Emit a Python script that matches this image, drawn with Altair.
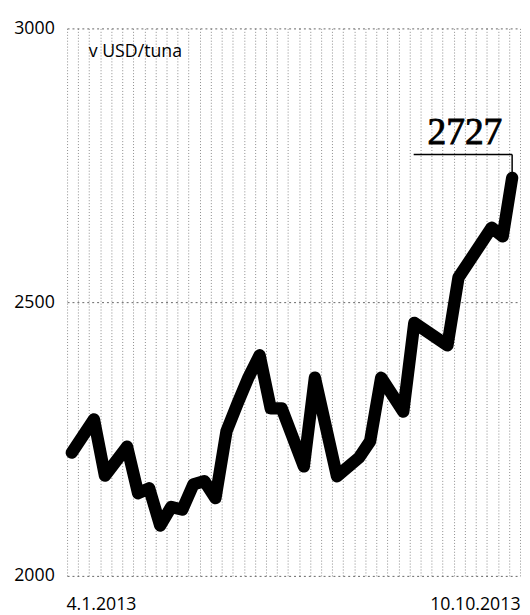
import altair as alt
import pandas as pd

# Weekly cocoa price (USD per tonne), vertices of the line
dates = [
    "2013/01/04", "2013/01/18", "2013/01/25", "2013/02/08", "2013/02/15",
    "2013/02/22", "2013/03/01", "2013/03/08", "2013/03/15", "2013/03/22",
    "2013/03/29", "2013/04/05", "2013/04/12", "2013/04/19", "2013/04/26",
    "2013/05/03", "2013/05/10", "2013/05/17", "2013/05/31", "2013/06/07",
    "2013/06/21", "2013/07/05", "2013/07/12", "2013/07/19", "2013/08/02",
    "2013/08/09", "2013/08/30", "2013/09/06", "2013/09/27", "2013/10/04",
    "2013/10/10",
]
prices = [
    2225, 2286, 2183, 2236, 2151,
    2160, 2092, 2126, 2121, 2167,
    2173, 2142, 2264, 2315, 2363,
    2403, 2306, 2306, 2200, 2362,
    2182, 2216, 2246, 2362, 2300,
    2462, 2421, 2545, 2636, 2620,
    2727,
]
y_ticks = [2000, 2500, 3000]
x_domain = ["2013/01/01", "2013/10/15"]
unit_label = "v USD/tuna"
date_format = "%-d.%-m.%Y"

df = pd.DataFrame({"date": dates, "price": prices})
last = df.iloc[[-1]].reset_index(drop=True)


def dt(s):
    y, m, d = (int(p) for p in s.split("/"))
    return alt.DateTime(year=y, month=m, date=d)


grid_weeks = [dt(d.strftime("%Y/%m/%d")) for d in pd.date_range("2013-01-01", "2013-10-15", freq="7D")]

xscale = alt.Scale(domain=[dt(x_domain[0]), dt(x_domain[1])], nice=False)
yscale = alt.Scale(domain=[y_ticks[0], y_ticks[-1]], nice=False)

FONT = "Open Sans"
first_test = "month(datum.value) == 0"

y_axis = alt.Axis(
    values=y_ticks, format="d", grid=True, gridDash=[2, 3],
    gridColor="#666666", gridWidth=1, ticks=False, domain=False,
    title=None, orient="left", labelPadding=13, labelFlush=False,
    labelBaseline="middle",
)

line = alt.Chart(df).mark_line(
    color="black", strokeWidth=12.5, strokeJoin="round", strokeCap="round"
).encode(
    x=alt.X(
        "date:T", scale=xscale,
        axis=alt.Axis(
            values=[dt(dates[0]), dt(dates[-1])], format=date_format,
            orient="bottom", labelFlush=False, labelOverlap=False,
            labelAlign={"condition": {"test": first_test, "value": "left"}, "value": "right"},
            labelOffset={"condition": {"test": first_test, "value": -6}, "value": 8},
            grid=False, ticks=False, domain=False, title=None,
            labelPadding=20, labelBaseline="top",
        ),
    ),
    y=alt.Y("price:Q", scale=yscale, axis=y_axis),
)

callout_h = alt.Chart(last).mark_rule(color="black", strokeWidth=1.5).encode(
    x=alt.X(
        "date:T", scale=xscale,
        axis=alt.Axis(
            values=grid_weeks, labels=False, ticks=False, domain=False,
            grid=True, gridDash=[1, 2], gridColor="#8a8a8a", gridWidth=1,
            title=None, orient="bottom",
        ),
    ),
    x2=alt.value(352),
    y=alt.value(128),
)

callout_v = alt.Chart(last).mark_rule(color="black", strokeWidth=1.5).encode(
    x=alt.X("date:T", scale=xscale, axis=None),
    y=alt.Y("price:Q", scale=yscale, axis=y_axis),
    y2=alt.value(128),
)

value_text = alt.Chart(last).mark_text(
    font="Liberation Serif", fontSize=38, color="black",
    stroke="black", strokeWidth=0.9,
    align="center", baseline="alphabetic", dx=-48, dy=-34,
).encode(
    x=alt.X("date:T", scale=xscale, axis=None),
    y=alt.Y("price:Q", scale=yscale, axis=y_axis),
    text=alt.Text("price:Q", format="d"),
)

unit_text = alt.Chart(pd.DataFrame({"t": [unit_label]})).mark_text(
    font=FONT, fontSize=18, color="black", align="left", baseline="alphabetic"
).encode(
    x=alt.value(22), y=alt.value(29), text="t:N"
)

chart = alt.layer(
    line, callout_h, callout_v, value_text, unit_text
).resolve_axis(x="independent").properties(
    width=460, height=556,
    autosize=alt.AutoSizeParams(type="none"),
    padding={"left": 60, "top": 16, "right": 2, "bottom": 35},
    background="white",
).configure_view(stroke=None).configure_axis(
    labelFont=FONT, labelFontSize=18, labelColor="black"
)

chart.save("out.html", embed_options={"renderer": "svg", "actions": False})
